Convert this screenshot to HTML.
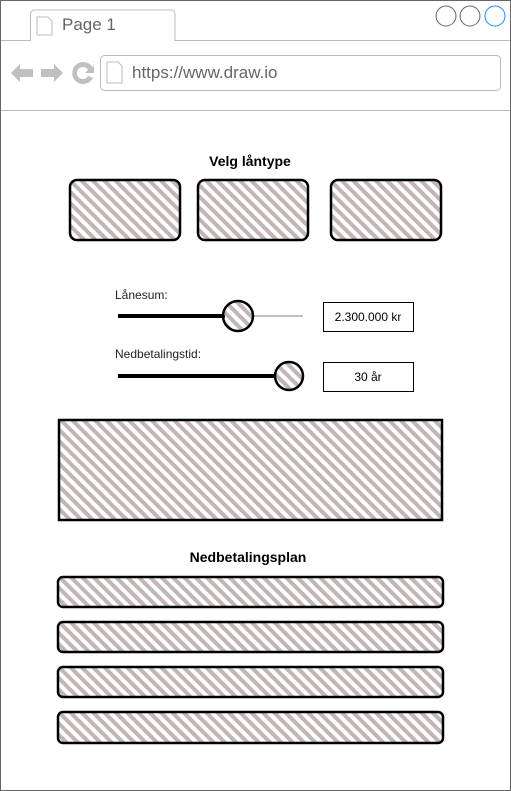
<!DOCTYPE html>
<html><head><meta charset="utf-8"><style>
html,body{margin:0;padding:0;background:#fff}
svg{display:block;font-family:"Liberation Sans",sans-serif}
</style></head><body>
<svg width="511" height="791" viewBox="0 0 511 791">
<defs>
<pattern id="hatch" width="8" height="8" patternUnits="userSpaceOnUse" patternTransform="rotate(-45)">
<rect x="0" y="0" width="4" height="8" fill="#c1b5b5"/>
</pattern>
</defs>
<rect x="0.5" y="0.5" width="510" height="790" fill="#fff" stroke="#666"/>
<path d="M1 40.5H30.5V14a4 4 0 0 1 4-4H171a4 4 0 0 1 4 4V40.5H510" fill="none" stroke="#bbb"/>
<path d="M37 17h11l4 4v14H37z" fill="#fff" stroke="#bbb"/>
<text x="62" y="30" font-size="17" fill="#666">Page 1</text>
<circle cx="446" cy="16" r="10" fill="#fff" stroke="#666"/>
<circle cx="470" cy="16" r="10" fill="#fff" stroke="#666"/>
<circle cx="495" cy="16" r="10" fill="#fff" stroke="#1a8cff"/>
<path d="M11 73l9-9v5h13v8H20v5z" fill="#c0c0c0"/>
<path d="M63 73l-9-9v5H41v8h13v5z" fill="#c0c0c0"/>
<path d="M93 68a11 11 0 1 0 0 10l-5-2a6 6 0 1 1 0-6l-3 3h9v-9z" fill="#c0c0c0"/>
<rect x="100.5" y="55.5" width="400" height="35" rx="4" fill="#fff" stroke="#bbb"/>
<path d="M107 62h11l4 4v17h-15z" fill="#fff" stroke="#bbb"/>
<text x="132" y="78" font-size="17" fill="#666">https://www.draw.io</text>
<line x1="1" y1="110.5" x2="510" y2="110.5" stroke="#bbb"/>

<text x="250" y="166" font-size="14" font-weight="bold" text-anchor="middle">Velg låntype</text>
<g stroke="#000" stroke-width="2.5" fill="url(#hatch)">
<rect x="70" y="180" width="110" height="60" rx="7"/>
<rect x="198" y="180" width="110" height="60" rx="7"/>
<rect x="331" y="180" width="110" height="60" rx="7"/>
</g>

<text x="115" y="299" font-size="12" fill="#222">Lånesum:</text>
<line x1="250" y1="316" x2="303" y2="316" stroke="#c0c0c0" stroke-width="2"/>
<line x1="118" y1="316" x2="225" y2="316" stroke="#000" stroke-width="4"/>
<circle cx="238" cy="316" r="15" fill="url(#hatch)" stroke="#000" stroke-width="2.5"/>
<rect x="323.5" y="302.5" width="90" height="29" fill="#fff" stroke="#000"/>
<text x="368" y="321" font-size="12" text-anchor="middle">2.300.000 kr</text>

<text x="115" y="358" font-size="12" fill="#222">Nedbetalingstid:</text>
<line x1="118" y1="376" x2="276" y2="376" stroke="#000" stroke-width="4"/>
<circle cx="289" cy="376" r="14" fill="url(#hatch)" stroke="#000" stroke-width="2.5"/>
<rect x="323.5" y="362.5" width="90" height="29" fill="#fff" stroke="#000"/>
<text x="368" y="381" font-size="12" text-anchor="middle">30 år</text>

<rect x="59" y="420" width="383" height="100" fill="url(#hatch)" stroke="#000" stroke-width="2.5"/>

<text x="248" y="562" font-size="14" font-weight="bold" text-anchor="middle">Nedbetalingsplan</text>
<g stroke="#000" stroke-width="2.5" fill="url(#hatch)">
<rect x="58" y="577" width="385" height="30" rx="5"/>
<rect x="58" y="622" width="385" height="30" rx="5"/>
<rect x="58" y="667" width="385" height="30" rx="5"/>
<rect x="58" y="712" width="385" height="31" rx="5"/>
</g>
</svg>
</body></html>
